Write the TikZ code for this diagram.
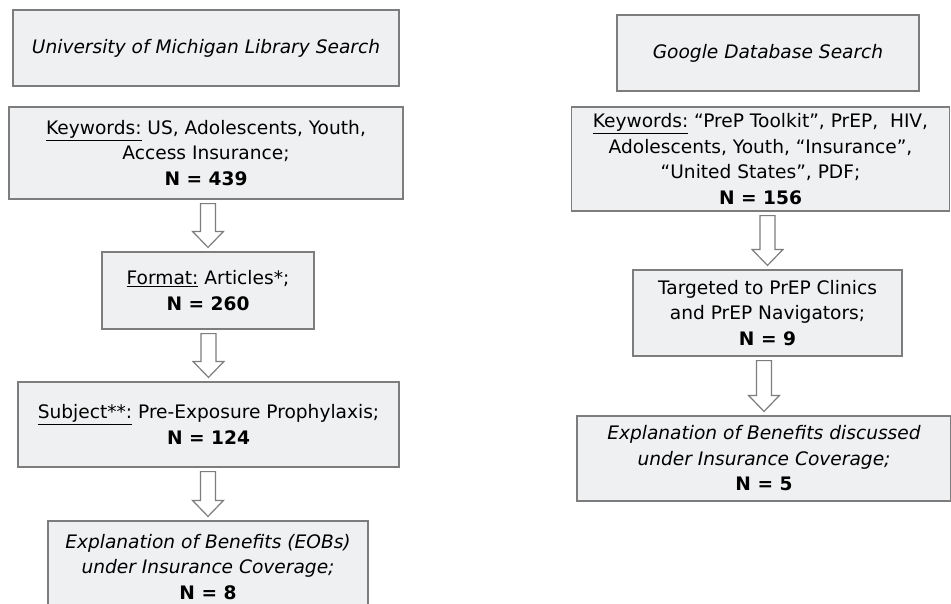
\documentclass[tikz,border=0pt]{standalone}
\usepackage{fontspec}
\setmainfont{DejaVu Sans}
\usepackage{tikz}
\usetikzlibrary{calc}
\usetikzlibrary{positioning}
\definecolor{boxfill}{RGB}{239,240,241}
\definecolor{boxline}{RGB}{125,125,125}
\tikzset{%
	% Specifications for style of nodes:
	base/.style = {rectangle, draw=boxline, fill=boxfill, line width=1.2pt,
				   inner sep=0pt, align=center,
				   font=\fontsize{18.6}{25.5}\selectfont},
	source/.style = {base, font=\fontsize{18.6}{25.5}\selectfont\itshape},
	blockarrow/.style = {draw=boxline, fill=white, line width=1.2pt, line join=miter},
}
% hollow down arrow between two boxes
\newcommand{\flowarrow}[2]{%
	\draw[blockarrow] ($(#1.south -| #2.north)+(-7.5,4)$) -- ($(#2.north)+(-7.5,-20)$)
		-- ($(#2.north)+(-15.5,-20)$) -- ($(#2.north)+(0,-4)$)
		-- ($(#2.north)+(15.5,-20)$) -- ($(#2.north)+(7.5,-20)$)
		-- ($(#1.south -| #2.north)+(7.5,4)$) -- cycle;}
\begin{document}
\begin{tikzpicture}[x=1pt, y=-1pt]
	\useasboundingbox[fill=white] (0,0) rectangle (951,603);
	\clip (0,0) rectangle (951,603);

	% Left column: library search
	\node (umich)   [source, minimum width=386pt, minimum height=76pt] at (206,48)
		{University of Michigan Library Search};
	\node (umKeys)  [base, minimum width=394pt, minimum height=92pt] at (206,153)
		{\underline{Keywords:} US, Adolescents, Youth,\\ Access Insurance;\\ \textbf{N = 439}};
	\node (umFormat)[base, minimum width=212pt, minimum height=77pt] at (208,290.5)
		{\underline{Format:} Articles*;\\ \textbf{N = 260}};
	\node (umSubj)  [base, minimum width=381pt, minimum height=85pt] at (208.5,424.5)
		{\underline{Subject**:} Pre-Exposure Prophylaxis;\\ \textbf{N = 124}};
	\node (umEob)   [base, minimum width=320pt, minimum height=92pt] at (208,567)
		{\textit{Explanation of Benefits (EOBs)}\\ \textit{under Insurance Coverage;}\\ \textbf{N = 8}};

	% Right column: google search
	\node (google)  [source, minimum width=302pt, minimum height=76pt] at (768,53)
		{Google Database Search};
	\node (gKeys)   [base, minimum width=378pt, minimum height=104pt] at (760.5,159)
		{\underline{Keywords:} “PreP Toolkit”, PrEP,~ HIV,\\ Adolescents, Youth, “Insurance”,\\ “United States”, PDF;\\ \textbf{N = 156}};
	\node (gTarget) [base, minimum width=269pt, minimum height=86pt] at (767.5,313)
		{Targeted to PrEP Clinics\\ and PrEP Navigators;\\ \textbf{N = 9}};
	\node (gEob)    [base, minimum width=374pt, minimum height=85pt] at (764,458.5)
		{\textit{Explanation of Benefits discussed}\\ \textit{under Insurance Coverage;}\\ \textbf{N = 5}};

	% Hollow arrows between the boxes
	\flowarrow{umKeys}{umFormat}
	\flowarrow{umFormat}{umSubj}
	\flowarrow{umSubj}{umEob}
	\flowarrow{gKeys}{gTarget}
	\flowarrow{gTarget}{gEob}

\end{tikzpicture}
\end{document}
